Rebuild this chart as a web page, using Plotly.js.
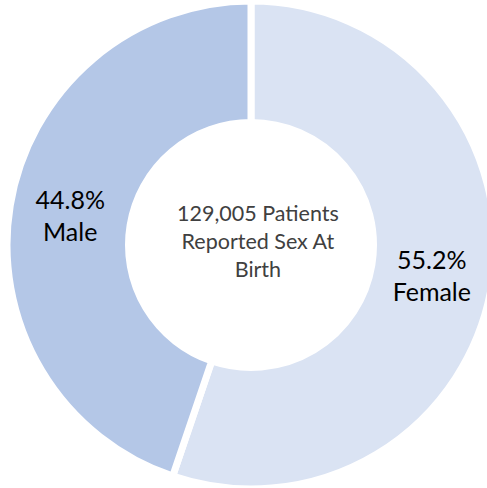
<!DOCTYPE html>
<html><head><meta charset="utf-8">
<script src="https://cdn.plot.ly/plotly-3.0.1.min.js"></script>
<style>html,body{margin:0;padding:0;overflow:hidden;background:#fff;width:487px;height:488px}</style>
</head><body>
<div id="chart" style="width:496px;height:492px"></div>
<script>
const categories = ["Female", "Male"];
const shares = [55.2, 44.8];
const sliceColors = ["#DAE3F3", "#B4C7E7"];
const centerText = "129,005 Patients<br>Reported Sex At<br>Birth";

Plotly.newPlot("chart", [{
  type: "pie",
  labels: categories,
  values: shares,
  sort: false,
  direction: "clockwise",
  rotation: 0,
  hole: 0.502,
  marker: {colors: sliceColors, line: {color: "#ffffff", width: 7}},
  texttemplate: "%{percent:.1%}<br>%{label}",
  textposition: "inside",
  insidetextorientation: "horizontal",
  textfont: {family: "Lato, sans-serif", size: 25, color: "#000000"},
  hoverinfo: "none",
  showlegend: false
}], {
  width: 496, height: 492,
  margin: {l: 7, r: 1, t: 1, b: 3},
  paper_bgcolor: "#ffffff",
  annotations: [{
    text: centerText, showarrow: false, xref: "paper", yref: "paper",
    x: 0.514, y: 0.508, xanchor: "center", yanchor: "middle",
    font: {family: "Lato, sans-serif", size: 21.5, color: "#404040"}
  }]
}, {staticPlot: true, displayModeBar: false});
</script>
</body></html>
